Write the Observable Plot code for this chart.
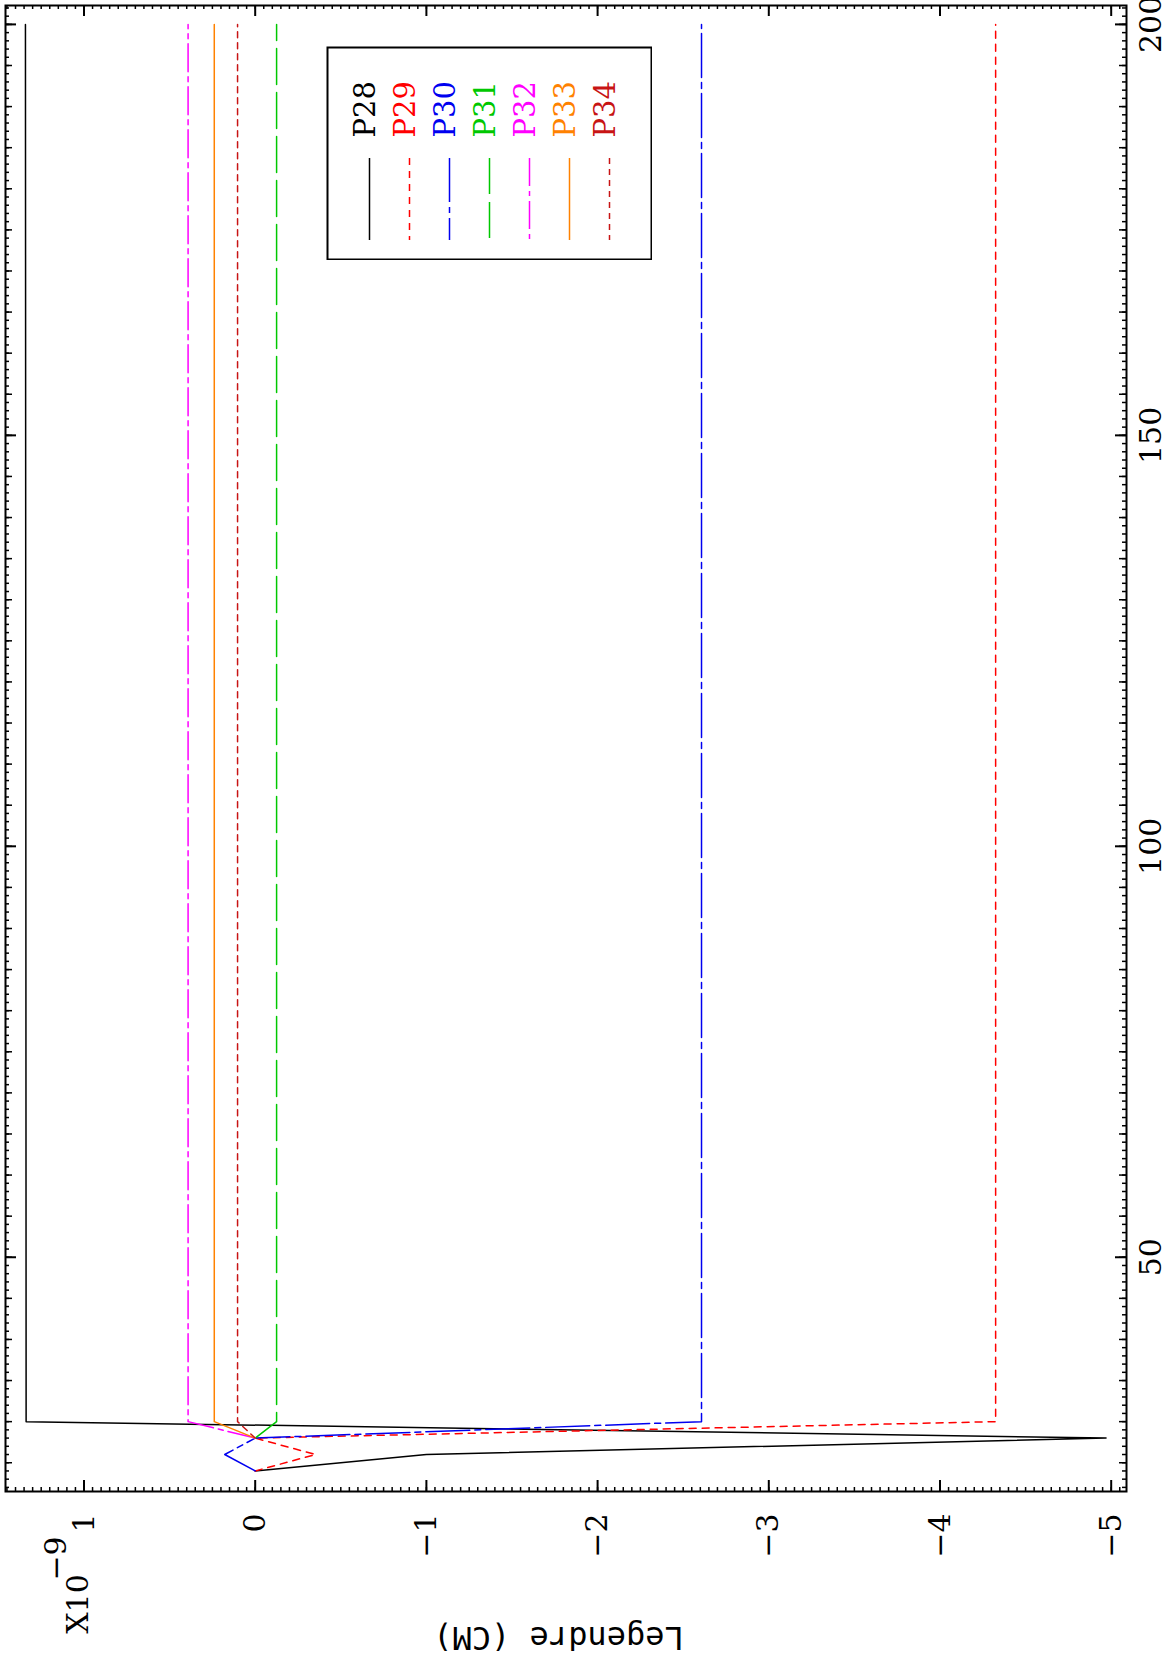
<!DOCTYPE html>
<html><head><meta charset="utf-8">
<script src="https://cdn.jsdelivr.net/npm/d3@7"></script>
<script src="https://cdn.jsdelivr.net/npm/@observablehq/plot@0.6"></script>
<style>
html,body{margin:0;padding:0;background:#fff;overflow:hidden;}
#wrap{position:relative;width:1167px;height:1659px;overflow:hidden;background:#fff;}
#legend{position:absolute;left:326px;top:46px;}
</style></head><body><div id="wrap"><div id="chart"></div><div id="legend"></div></div>
<script>
// ---- data ----
const seriesNames = ["P28","P29","P30","P31","P32","P33","P34"];
const pos_P28 = [24, 26, 28, 30, 200];
const val_P28 = [0, -1.00, -4.97, 1.338, 1.342];
const pos_P29 = [24, 26, 28, 30, 200];
const val_P29 = [0, -0.352, 0, -4.325, -4.325];
const pos_P30 = [24, 26, 28, 30, 200];
const val_P30 = [0, 0.178, 0, -2.607, -2.607];
const pos_P31 = [28, 30, 200];
const val_P31 = [0, -0.125, -0.125];
const pos_P32 = [28, 30, 200];
const val_P32 = [0, 0.392, 0.392];
const pos_P33 = [28, 30, 200];
const val_P33 = [0, 0.239, 0.239];
const pos_P34 = [28, 30, 200];
const val_P34 = [0, 0.103, 0.103];
const valueTickLabels = [1, 0, -1, -2, -3, -4, -5];
const posTickLabels = [50, 100, 150, 200];
const yAxisLabel = "Legendre (CM)";
const exponentBase = "X10";
const exponentPower = "\u22129";

// ---- styles ----
const colors = ["#000000","#ff0000","#0000f0","#00c800","#ff00ff","#ff8200","#c81414"];
const dashes = [null, "7,6", "44,5,6,5", "36,8", "28,5,5,5", null, "6,5"];

const posArrays = [pos_P28,pos_P29,pos_P30,pos_P31,pos_P32,pos_P33,pos_P34];
const valArrays = [val_P28,val_P29,val_P30,val_P31,val_P32,val_P33,val_P34];
const table = seriesNames.flatMap((s,i)=>posArrays[i].map((p,j)=>({series:s,pos:p,value:valArrays[i][j]})));

const W=1167,H=1659,mL=5,mT=5,mR=41,mB=168;
const frameH=H-mT-mB, frameW=W-mL-mR;
const xDomain=[1.4585,-5.0894], yDomain=[21.5,202.3];
const fmt = v => (v<0?"\u2212":"")+Math.abs(v);
const minorX = d3.range(-101,30).map(i=>+(i*0.05).toFixed(2)).filter(v=>v>xDomain[1]&&v<xDomain[0]);
const minorY = d3.range(22,203);
const mediumY = minorY.filter(v=>v%5===0);

const tickX = (data,len,sw,side)=>Plot.tickX(data,{x:d=>d,stroke:"black",strokeWidth:sw,[side==="bottom"?"insetTop":"insetBottom"]:frameH-len});
const tickY = (data,len,sw,side)=>Plot.tickY(data,{y:d=>d,stroke:"black",strokeWidth:sw,[side==="left"?"insetRight":"insetLeft"]:frameW-len});

const chart = Plot.plot({
  width:W,height:H,marginLeft:mL,marginTop:mT,marginRight:mR,marginBottom:mB,
  style:{fontFamily:"DejaVu Serif",fontSize:"30px",background:"white",color:"black"},
  x:{domain:xDomain,axis:null},
  y:{domain:yDomain,axis:null},
  marks:[
    tickX(minorX,4,1.5,"bottom"), tickX(minorX,4,1.5,"top"),
    tickX(valueTickLabels,11,2,"bottom"), tickX(valueTickLabels,11,2,"top"),
    tickY(minorY,4,1.5,"left"), tickY(minorY,4,1.5,"right"),
    tickY(mediumY,7,1.5,"left"), tickY(mediumY,7,1.5,"right"),
    tickY(posTickLabels,11,2,"left"), tickY(posTickLabels,11,2,"right"),
    ...seriesNames.map((s,i)=>Plot.line(table.filter(d=>d.series===s),{x:"value",y:"pos",stroke:colors[i],strokeWidth:1.5,strokeDasharray:dashes[i]??undefined})),
    Plot.frame({stroke:"black",strokeWidth:2}),
    Plot.text(valueTickLabels,{x:d=>d,frameAnchor:"bottom",dy:22,rotate:-90,textAnchor:"end",lineAnchor:"middle",text:fmt,fontSize:30}),
    Plot.text(posTickLabels,{y:d=>d,frameAnchor:"right",dx:25,rotate:-90,textAnchor:"middle",lineAnchor:"middle",text:d=>String(d),fontSize:30}),
    Plot.text([exponentBase],{frameAnchor:"bottom-left",dx:72.5,dy:112.5,rotate:-90,textAnchor:"middle",lineAnchor:"middle",fontSize:30}),
    Plot.text([exponentPower],{frameAnchor:"bottom-left",dx:51,dy:67,rotate:-90,textAnchor:"middle",lineAnchor:"middle",fontSize:30}),
    Plot.text([yAxisLabel],{frameAnchor:"bottom-left",dx:553,dy:146,rotate:180,textAnchor:"middle",lineAnchor:"middle",fontSize:32,fontFamily:"DejaVu Sans Mono"})
  ]
});
document.getElementById("chart").appendChild(chart);

const legend = Plot.plot({
  width:326,height:214,margin:0,
  style:{fontFamily:"DejaVu Serif",fontSize:"29px",background:"white"},
  x:{type:"point",domain:seriesNames,range:[40.7,284.7],padding:0,axis:null},
  color:{domain:seriesNames,range:colors},
  marks:[
    ...seriesNames.map((s,i)=>Plot.ruleX([s],{x:d=>d,stroke:colors[i],strokeWidth:1.5,strokeDasharray:dashes[i]??undefined,insetTop:112,insetBottom:20})),
    Plot.text(seriesNames,{x:d=>d,fill:d=>d,frameAnchor:"top",dy:91,dx:-4,rotate:-90,textAnchor:"start",lineAnchor:"middle",fontSize:29}),
    Plot.frame({stroke:"black",strokeWidth:2,inset:1})
  ]
});
document.getElementById("legend").appendChild(legend);
</script></body></html>
